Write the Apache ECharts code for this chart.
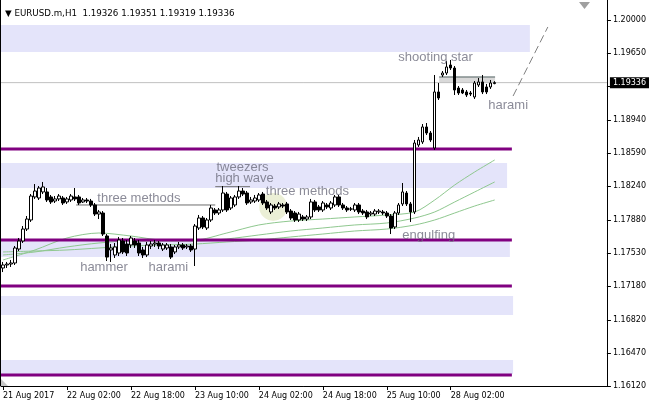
<!DOCTYPE html>
<html><head><meta charset="utf-8">
<script src="https://cdn.jsdelivr.net/npm/echarts@6/dist/echarts.min.js"></script>
<style>html,body{margin:0;padding:0;background:#fff}#c{width:649px;height:407px}</style>
</head><body><div id="c"></div>
<script>
// ---------- data ----------
const symbolName = 'EURUSD.m,H1';
const lastOHLC = [1.19326, 1.19351, 1.19319, 1.19336];
const currentPrice = 1.19336;
const xTickBars = [0, 16, 32, 48, 64, 80, 96, 112];
const xTickLabels = ['21 Aug 2017', '22 Aug 02:00', '22 Aug 18:00', '23 Aug 10:00', '24 Aug 02:00', '24 Aug 18:00', '25 Aug 10:00', '28 Aug 02:00'];
const yTickValues = [1.1612, 1.1647, 1.1682, 1.1718, 1.1753, 1.1788, 1.1824, 1.1859, 1.1894, 1.1930, 1.1965, 1.2000];
const priceMin = 1.16120, priceMax = 1.20212;

const openP = [1.17371,1.17403,1.17413,1.17424,1.17572,1.17657,1.17784,1.17880,1.18124,1.18113,
1.18177,1.18177,1.18124,1.18081,1.18103,1.18113,1.18071,1.18092,1.18124,1.18124,
1.18071,1.18092,1.18081,1.18039,1.17943,1.17954,1.17710,1.17562,1.17509,1.17530,
1.17657,1.17625,1.17615,1.17657,1.17636,1.17562,1.17509,1.17604,1.17625,1.17636,
1.17572,1.17583,1.17594,1.17541,1.17594,1.17615,1.17594,1.17604,1.17572,1.17795,
1.17901,1.17795,1.17880,1.17986,1.17954,1.17986,1.18155,1.18007,1.18039,1.18124,
1.18187,1.18166,1.18071,1.18081,1.18092,1.18155,1.18071,1.17965,1.18028,1.18018,
1.18039,1.18050,1.17975,1.17954,1.17880,1.17912,1.17890,1.17912,1.18071,1.18018,
1.17986,1.18039,1.18007,1.18039,1.18124,1.18039,1.18007,1.17996,1.17986,1.18039,
1.17975,1.17965,1.17943,1.17943,1.17965,1.17965,1.17954,1.17922,1.17806,1.17954,
1.18050,1.18166,1.18050,1.17965,1.18675,1.18707,1.18866,1.18802,1.18643,1.19237,
1.19417,1.19438,1.19523,1.19491,1.19279,1.19258,1.19237,1.19226,1.19184,1.19311,
1.19343,1.19290,1.19290,1.19326];
const closeP = [1.17403,1.17413,1.17424,1.17583,1.17657,1.17784,1.17890,1.18134,1.18187,1.18219,
1.18230,1.18092,1.18071,1.18103,1.18134,1.18060,1.18103,1.18134,1.18103,1.18060,
1.18092,1.18081,1.18039,1.17943,1.17965,1.17731,1.17487,1.17583,1.17594,1.17668,
1.17541,1.17530,1.17689,1.17615,1.17530,1.17509,1.17615,1.17625,1.17636,1.17604,
1.17615,1.17615,1.17487,1.17594,1.17615,1.17583,1.17604,1.17562,1.17816,1.17901,
1.17806,1.17880,1.18007,1.17954,1.17986,1.18166,1.17986,1.18113,1.18124,1.18187,
1.18155,1.18060,1.18092,1.18113,1.18145,1.18060,1.18007,1.18039,1.18007,1.18050,
1.18028,1.17965,1.17901,1.17880,1.17943,1.17890,1.17912,1.18071,1.17986,1.17986,
1.18060,1.18018,1.18060,1.18124,1.18039,1.18007,1.17986,1.17996,1.18039,1.17965,
1.17954,1.17912,1.17954,1.17975,1.17975,1.17954,1.17922,1.17795,1.17954,1.18039,
1.18177,1.18050,1.17965,1.18696,1.18728,1.18866,1.18802,1.18728,1.19237,1.19173,
1.19438,1.19502,1.19491,1.19258,1.19226,1.19226,1.19205,1.19215,1.19332,1.19343,
1.19237,1.19237,1.19332,1.19336];
const highP = [1.17435,1.17435,1.17456,1.17604,1.17689,1.17816,1.17922,1.18155,1.18261,1.18240,
1.18283,1.18219,1.18145,1.18134,1.18155,1.18134,1.18124,1.18155,1.18219,1.18145,
1.18113,1.18113,1.18103,1.18060,1.17986,1.17975,1.17731,1.17625,1.17636,1.17700,
1.17689,1.17668,1.17710,1.17689,1.17668,1.17594,1.17647,1.17657,1.17668,1.17657,
1.17636,1.17636,1.17625,1.17615,1.17647,1.17636,1.17625,1.17625,1.17837,1.17933,
1.17922,1.17901,1.18039,1.18007,1.18007,1.18240,1.18177,1.18134,1.18145,1.18240,
1.18219,1.18187,1.18124,1.18145,1.18166,1.18177,1.18092,1.18060,1.18050,1.18071,
1.18060,1.18071,1.17996,1.17975,1.17965,1.17933,1.17933,1.18103,1.18092,1.18039,
1.18081,1.18060,1.18081,1.18145,1.18145,1.18060,1.18028,1.18018,1.18060,1.18060,
1.17996,1.17986,1.17975,1.17996,1.17996,1.17986,1.17975,1.17943,1.17975,1.18060,
1.18272,1.18187,1.18071,1.18728,1.18760,1.18897,1.18908,1.18823,1.19417,1.19332,
1.19459,1.19565,1.19576,1.19512,1.19300,1.19279,1.19258,1.19247,1.19353,1.19385,
1.19417,1.19322,1.19364,1.19351];
const lowP = [1.17328,1.17371,1.17382,1.17403,1.17551,1.17636,1.17763,1.17859,1.18103,1.18092,
1.18155,1.18071,1.18050,1.18060,1.18081,1.18039,1.18050,1.18071,1.18081,1.18039,
1.18060,1.18060,1.18018,1.17922,1.17890,1.17710,1.17445,1.17435,1.17477,1.17498,
1.17519,1.17498,1.17583,1.17583,1.17498,1.17477,1.17487,1.17572,1.17594,1.17572,
1.17551,1.17562,1.17466,1.17519,1.17572,1.17562,1.17572,1.17541,1.17392,1.17774,
1.17784,1.17774,1.17859,1.17933,1.17933,1.17965,1.17965,1.17986,1.18018,1.18103,
1.18134,1.18039,1.18050,1.18060,1.18071,1.18039,1.17986,1.17943,1.17986,1.17996,
1.18007,1.17943,1.17880,1.17859,1.17859,1.17869,1.17869,1.17890,1.17965,1.17965,
1.17965,1.17996,1.17986,1.18018,1.18018,1.17986,1.17965,1.17975,1.17965,1.17943,
1.17933,1.17890,1.17922,1.17922,1.17943,1.17933,1.17901,1.17731,1.17784,1.17933,
1.18028,1.18028,1.17859,1.17943,1.18654,1.18686,1.18781,1.18707,1.18622,1.19152,
1.19396,1.19417,1.19470,1.19205,1.19205,1.19215,1.19184,1.19194,1.19163,1.19290,
1.19215,1.19215,1.19269,1.19319];

// moving averages read at sample bars
const maBars = [0, 8, 16, 24, 32, 40, 48, 56, 64, 72, 80, 88, 96, 103, 108, 113, 118, 123];
const maFast = [1.17456,1.17562,1.17689,1.17742,1.17710,1.17668,1.17668,1.17742,1.17827,1.17869,1.17890,1.17912,1.17933,1.17965,1.18092,1.18251,1.18389,1.18516];
const maMid  = [1.17509,1.17541,1.17594,1.17636,1.17657,1.17657,1.17657,1.17679,1.17721,1.17763,1.17795,1.17827,1.17848,1.17901,1.17965,1.18071,1.18177,1.18283];
const maSlow = [1.17541,1.17551,1.17562,1.17583,1.17604,1.17615,1.17625,1.17647,1.17668,1.17700,1.17731,1.17763,1.17784,1.17827,1.17880,1.17954,1.18028,1.18092];

// supply/demand zones (lavender rectangles)
const zoneTop    = [1.19947, 1.18484, 1.17657, 1.17074, 1.16396];
const zoneBottom = [1.19661, 1.18219, 1.17487, 1.16873, 1.16247];
const zoneEndBar = [131.8, 126.1, 126.8, 127.6, 127.6];

// horizontal levels (purple)
const levelPrices = [1.18633, 1.17668, 1.17180, 1.16237];
const levelEndBar = [127.3, 127.3, 127.3, 127.3];

// pattern guide lines (gray)
const guideStartBar = [18.3, 53.1];
const guideEndBar   = [53.1, 61.8];
const guidePrice    = [1.18039, 1.18233];

// harami box
const boxBars = [109.1, 123.1];
const boxPrices = [1.19396, 1.19332];

// dashed trend line
const trendBars = [127.6, 136.3];
const trendPrices = [1.19194, 1.19926];

// highlight circle
const circleBar = 67.6, circlePrice = 1.18018;

// annotations
const annText   = ['shooting star', 'harami', 'tweezers', 'high wave', 'three methods', 'three methods', 'hammer', 'harami', 'engulfing'];
const annBar    = [98.9, 121.4, 53.4, 53.1, 65.75, 23.6, 19.3, 36.4, 99.9];
const annPrice  = [1.19600, 1.19099, 1.18436, 1.18325, 1.18187, 1.18113, 1.17376, 1.17382, 1.17720];

// ---------- chart ----------
const FONT = 'DejaVu Sans';
const ANN_FONT = 'Liberation Sans';
const chart = echarts.init(document.getElementById('c'), null, {renderer: 'canvas'});
const gridLeft = 0.7, gridRight = 42, barPx = 4;
const xMin = -0.5, xMax = -0.5 + (649 - gridLeft - gridRight) / barPx;

const series = [];
// zones
series.push({
  type: 'line', data: [[xMin, zoneTop[0]]], symbol: 'none', z: 1, silent: true,
  lineStyle: {opacity: 0},
  markArea: {silent: true, itemStyle: {color: '#e4e4fa'},
    data: zoneTop.map((t, k) => [{xAxis: xMin, yAxis: t}, {xAxis: zoneEndBar[k], yAxis: zoneBottom[k]}])}
});
// harami box
series.push({
  type: 'line', data: [[boxBars[0], boxPrices[0]], [boxBars[1], boxPrices[0]]], symbol: 'none', z: 2, silent: true,
  lineStyle: {color: '#4f5f5f', width: 1},
  markArea: {silent: true, itemStyle: {color: '#d9d9d9'},
    data: [[{xAxis: boxBars[0], yAxis: boxPrices[0]}, {xAxis: boxBars[1], yAxis: boxPrices[1]}]]}
});
// circle
series.push({type: 'scatter', data: [[circleBar, circlePrice]], symbolSize: 28, z: 1, silent: true,
  itemStyle: {color: '#e6ebcc'}});
// current price line + label
series.push({
  type: 'line', data: [[xMin, currentPrice], [xMax, currentPrice]], symbol: 'none', z: 2, silent: true,
  lineStyle: {color: '#c0c0c0', width: 1},
  endLabel: {show: true, distance: 3, formatter: currentPrice.toFixed(5), color: '#fff', backgroundColor: '#000',
    padding: [2, 4, 1, 3], fontFamily: FONT, fontSize: 8}
});
// MAs
[maFast, maMid, maSlow].forEach(arr => {
  series.push({type: 'line', data: maBars.map((b, k) => [b, arr[k]]), symbol: 'none', smooth: 0.3, z: 3, silent: true,
    lineStyle: {color: '#8fc88f', width: 1}});
});
// purple levels
levelPrices.forEach((p, k) => {
  series.push({type: 'line', data: [[xMin, p], [levelEndBar[k], p]], symbol: 'none', z: 3, silent: true,
    lineStyle: {color: '#800080', width: 3}});
});
// guide lines
guidePrice.forEach((p, k) => {
  series.push({type: 'line', data: [[guideStartBar[k], p], [guideEndBar[k], p]], symbol: 'none', z: 3, silent: true,
    lineStyle: {color: '#6e6e6e', width: 1}});
});
// trend line
series.push({type: 'line', data: trendBars.map((b, k) => [b, trendPrices[k]]), symbol: 'none', z: 3, silent: true,
  lineStyle: {color: '#808080', width: 1, type: [8, 4]}});
// candles
series.push({
  type: 'candlestick', z: 5, silent: true, barWidth: 3,
  encode: {x: 0, y: [1, 2, 3, 4]},
  data: openP.map((o, i) => [i, o, closeP[i], lowP[i], highP[i]]),
  itemStyle: {color: '#ffffff', color0: '#000000', borderColor: '#000000', borderColor0: '#000000', borderWidth: 1}
});
// annotations
series.push({
  type: 'scatter', z: 6, silent: true, symbolSize: 0,
  data: annBar.map((b, k) => [b, annPrice[k]]),
  label: {show: true, position: 'right', distance: 0, formatter: p => annText[p.dataIndex],
    fontFamily: ANN_FONT, fontSize: 13, color: '#6e6e7e'}
});

chart.setOption({
  animation: false,
  backgroundColor: '#fff',
  title: {text: '\u25BC ' + symbolName + '  ' + lastOHLC.map(v => v.toFixed(5)).join(' '), left: 0, top: 4,
    textStyle: {fontFamily: FONT, fontSize: 8.7, fontWeight: 'normal', color: '#000'}},
  grid: {left: gridLeft, right: gridRight, top: 0, bottom: 21, show: false},
  xAxis: {
    type: 'value', min: xMin, max: xMax,
    axisLine: {show: true, lineStyle: {color: '#000', width: 1}},
    axisTick: {show: true, length: 4, lineStyle: {color: '#000'}, customValues: xTickBars},
    axisLabel: {customValues: xTickBars, formatter: v => xTickLabels[xTickBars.indexOf(v)] || '', align: 'left',
      margin: 6, fontFamily: FONT, fontSize: 8, color: '#000'},
    splitLine: {show: false}
  },
  yAxis: [{
    type: 'value', position: 'right', min: priceMin, max: priceMax, scale: true,
    axisLine: {show: true, onZero: false, lineStyle: {color: '#000', width: 1}},
    axisTick: {show: true, length: 4, lineStyle: {color: '#000'}, customValues: yTickValues},
    axisLabel: {customValues: yTickValues, formatter: v => v.toFixed(5), margin: 6, fontFamily: FONT, fontSize: 8, color: '#000'},
    splitLine: {show: false}
  }],
  graphic: [
    {type: 'line', shape: {x1: 0.5, y1: 0, x2: 0.5, y2: 386}, style: {stroke: '#000', lineWidth: 1}, silent: true},
    {type: 'polygon', shape: {points: [[579, 2], [590, 2], [584.5, 9]]}, style: {fill: '#a0a0a0'}, silent: true},
    {type: 'polygon', shape: {points: [[1, 379], [1, 386], [8, 386]]}, style: {fill: '#c8c8c8'}, silent: true}
  ],
  series: series
});
</script>
</body></html>
